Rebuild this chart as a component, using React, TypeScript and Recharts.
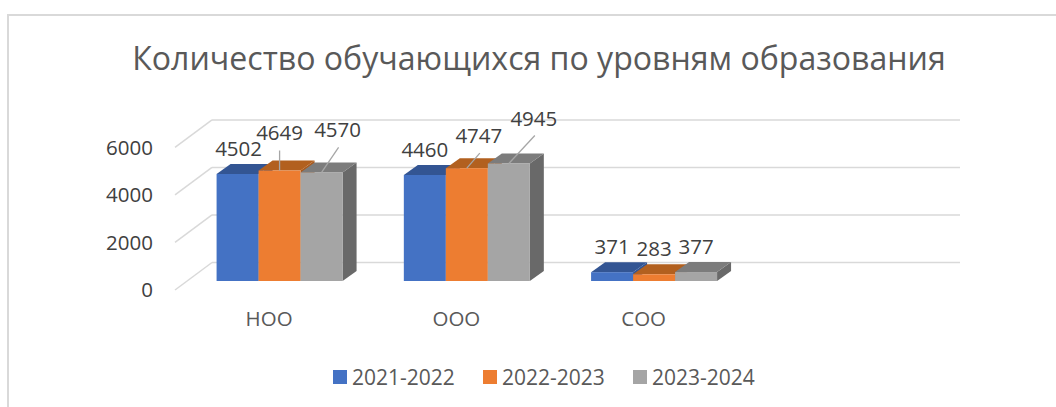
import React from 'react';
import { BarChart, Bar, XAxis, YAxis, CartesianGrid, Legend, LabelList } from 'recharts';

const categories = ['НОО', 'ООО', 'СОО', ''];
const seriesNames = ['2021-2022', '2022-2023', '2023-2024'];
const values2122 = [4502, 4460, 371, null];
const values2223 = [4649, 4747, 283, null];
const values2324 = [4570, 4945, 377, null];
const yTicks = [0, 2000, 4000, 6000];

const rows = categories.map((name, i) => ({
  name,
  a: values2122[i],
  b: values2223[i],
  c: values2324[i],
}));

const FONT = '"Open Sans", sans-serif';
const GRID = '#d9d9d9';

// fake 3D: depth of the bars and of the floor/back wall
const BAR_DX = 14;
const BAR_DY = 10;
const WALL_DX = 26.5;
const WALL_DY = 18.5;
const FLOOR_DX = 10.5;
const FLOOR_DY = 9;

const faces = {
  a: { front: '#4472C4', top: '#335593', side: '#2f5496' },
  b: { front: '#ED7D31', top: '#B2601F', side: '#a85a1f' },
  c: { front: '#A5A5A5', top: '#7C7C7C', side: '#696969' },
};

// label placement per series and category, relative to the top centre of the bar
const labelPlace: Record<string, { dx: number; dy: number; leader?: boolean; fromDx?: number; fromDy?: number }[]> = {
  a: [{ dx: 1, dy: -25 }, { dx: 0, dy: -25 }, { dx: 0, dy: -25 }],
  b: [{ dx: 0, dy: -37.5, leader: true, fromDx: 0, fromDy: -20 }, { dx: 12, dy: -32, leader: true, fromDx: 13, fromDy: -15 }, { dx: 0, dy: -25 }],
  c: [{ dx: 16, dy: -43, leader: true, fromDx: 17, fromDy: -25 }, { dx: 25, dy: -45, leader: true, fromDx: 26, fromDy: -28 }, { dx: 0, dy: -25 }],
};

const Box3D = (props: any, key: 'a' | 'b' | 'c') => {
  const { x, y, width, height } = props;
  if (!height) return <g />;
  const f = faces[key];
  const r = x + width;
  const b = y + height;
  return (
    <g>
      <polygon points={`${r},${y} ${r + BAR_DX},${y - BAR_DY} ${r + BAR_DX},${b - BAR_DY} ${r},${b}`} fill={f.side} />
      <polygon points={`${x},${y} ${x + BAR_DX},${y - BAR_DY} ${r + BAR_DX},${y - BAR_DY} ${r},${y}`} fill={f.top} />
      <rect x={x} y={y} width={width} height={height} fill={f.front} />
    </g>
  );
};

const gridLine = (props: any) => {
  const { x1, x2, y1 } = props;
  const backX = x1 + WALL_DX;
  return (
    <g key={y1}>
      <line x1={x1 - FLOOR_DX} y1={y1 + FLOOR_DY} x2={backX} y2={y1 - WALL_DY} stroke={GRID} strokeWidth={1.5} />
      <line x1={backX} y1={y1 - WALL_DY} x2={x2 + WALL_DX - 1} y2={y1 - WALL_DY} stroke={GRID} strokeWidth={1.5} />
    </g>
  );
};

const YTick = (props: any) => (
  <text x={153} y={props.y + FLOOR_DY} dy="0.35em" textAnchor="end" fontFamily={FONT} fontSize={20.5} fill="#404040">
    {props.payload.value}
  </text>
);

const XTick = (props: any) => (
  <text x={props.x - 10} y={319} dy="0.35em" textAnchor="middle" fontFamily={FONT} fontSize={20.5} fill="#595959">
    {props.payload.value}
  </text>
);

const barLabel = (key: string) => (props: any) => {
  const { x, y, width, value, index } = props;
  const place = labelPlace[key][index];
  if (value == null || !place) return <g />;
  const cx = x + width / 2;
  return (
    <g>
      {place.leader && (
        <line x1={cx + (place.fromDx || 0)} y1={y + (place.fromDy || 0)} x2={cx} y2={y} stroke="#a6a6a6" strokeWidth={1.3} />
      )}
      <text x={cx + place.dx} y={y + place.dy} dy="0.35em" textAnchor="middle" fontFamily={FONT} fontSize={20.5} fill="#404040">
        {value}
      </text>
    </g>
  );
};

const LegendRow = ({ payload }: any) => (
  <div style={{ position: 'relative', height: 20 }}>
    {(payload || []).map((item: any, i: number) => (
      <div key={item.value} style={{ position: 'absolute', left: i * 150, top: 0, display: 'flex', alignItems: 'center', whiteSpace: 'nowrap' }}>
        <span style={{ width: 14, height: 14, background: item.color, marginRight: 5, display: 'inline-block' }} />
        <span style={{ fontFamily: FONT, fontSize: 21, color: '#595959', lineHeight: '20px' }}>{item.value}</span>
      </div>
    ))}
  </div>
);

export default function App() {
  return (
    <div style={{ position: 'absolute', left: 0, top: 0, width: 1056, height: 407, background: '#fff', overflow: 'hidden' }}>
      <div style={{ position: 'absolute', left: 7, top: 14, width: 1049, height: 400, borderLeft: `2px solid ${GRID}`, borderTop: `2px solid ${GRID}` }} />
      <div style={{ position: 'absolute', left: 0, width: 1078, top: 36, textAlign: 'center', fontFamily: FONT, fontSize: 32.1, color: '#595959', whiteSpace: 'nowrap' }}>
        Количество обучающихся по уровням образования
      </div>
      <BarChart
        width={1056}
        height={407}
        data={rows}
        margin={{ top: 138.4, right: 121.5, bottom: 76, left: 145.5 }}
        barCategoryGap="16.6%"
        barGap={0}
        style={{ position: 'absolute', left: 0, top: 0 }}
      >
        <CartesianGrid vertical={false} horizontal={gridLine} />
        <XAxis dataKey="name" height={30} axisLine={false} tickLine={false} tick={XTick} interval={0} />
        <YAxis domain={[0, 6000]} ticks={yTicks} width={40} axisLine={false} tickLine={false} tick={YTick} />
        <Legend
          content={<LegendRow />}
          wrapperStyle={{ left: 333, top: 367, width: 600, height: 20 }}
        />
        <Bar dataKey="a" name={seriesNames[0]} fill={faces.a.front} isAnimationActive={false} shape={(p: any) => Box3D(p, 'a')}>
          <LabelList dataKey="a" content={barLabel('a')} />
        </Bar>
        <Bar dataKey="b" name={seriesNames[1]} fill={faces.b.front} isAnimationActive={false} shape={(p: any) => Box3D(p, 'b')}>
          <LabelList dataKey="b" content={barLabel('b')} />
        </Bar>
        <Bar dataKey="c" name={seriesNames[2]} fill={faces.c.front} isAnimationActive={false} shape={(p: any) => Box3D(p, 'c')}>
          <LabelList dataKey="c" content={barLabel('c')} />
        </Bar>
      </BarChart>
    </div>
  );
}
